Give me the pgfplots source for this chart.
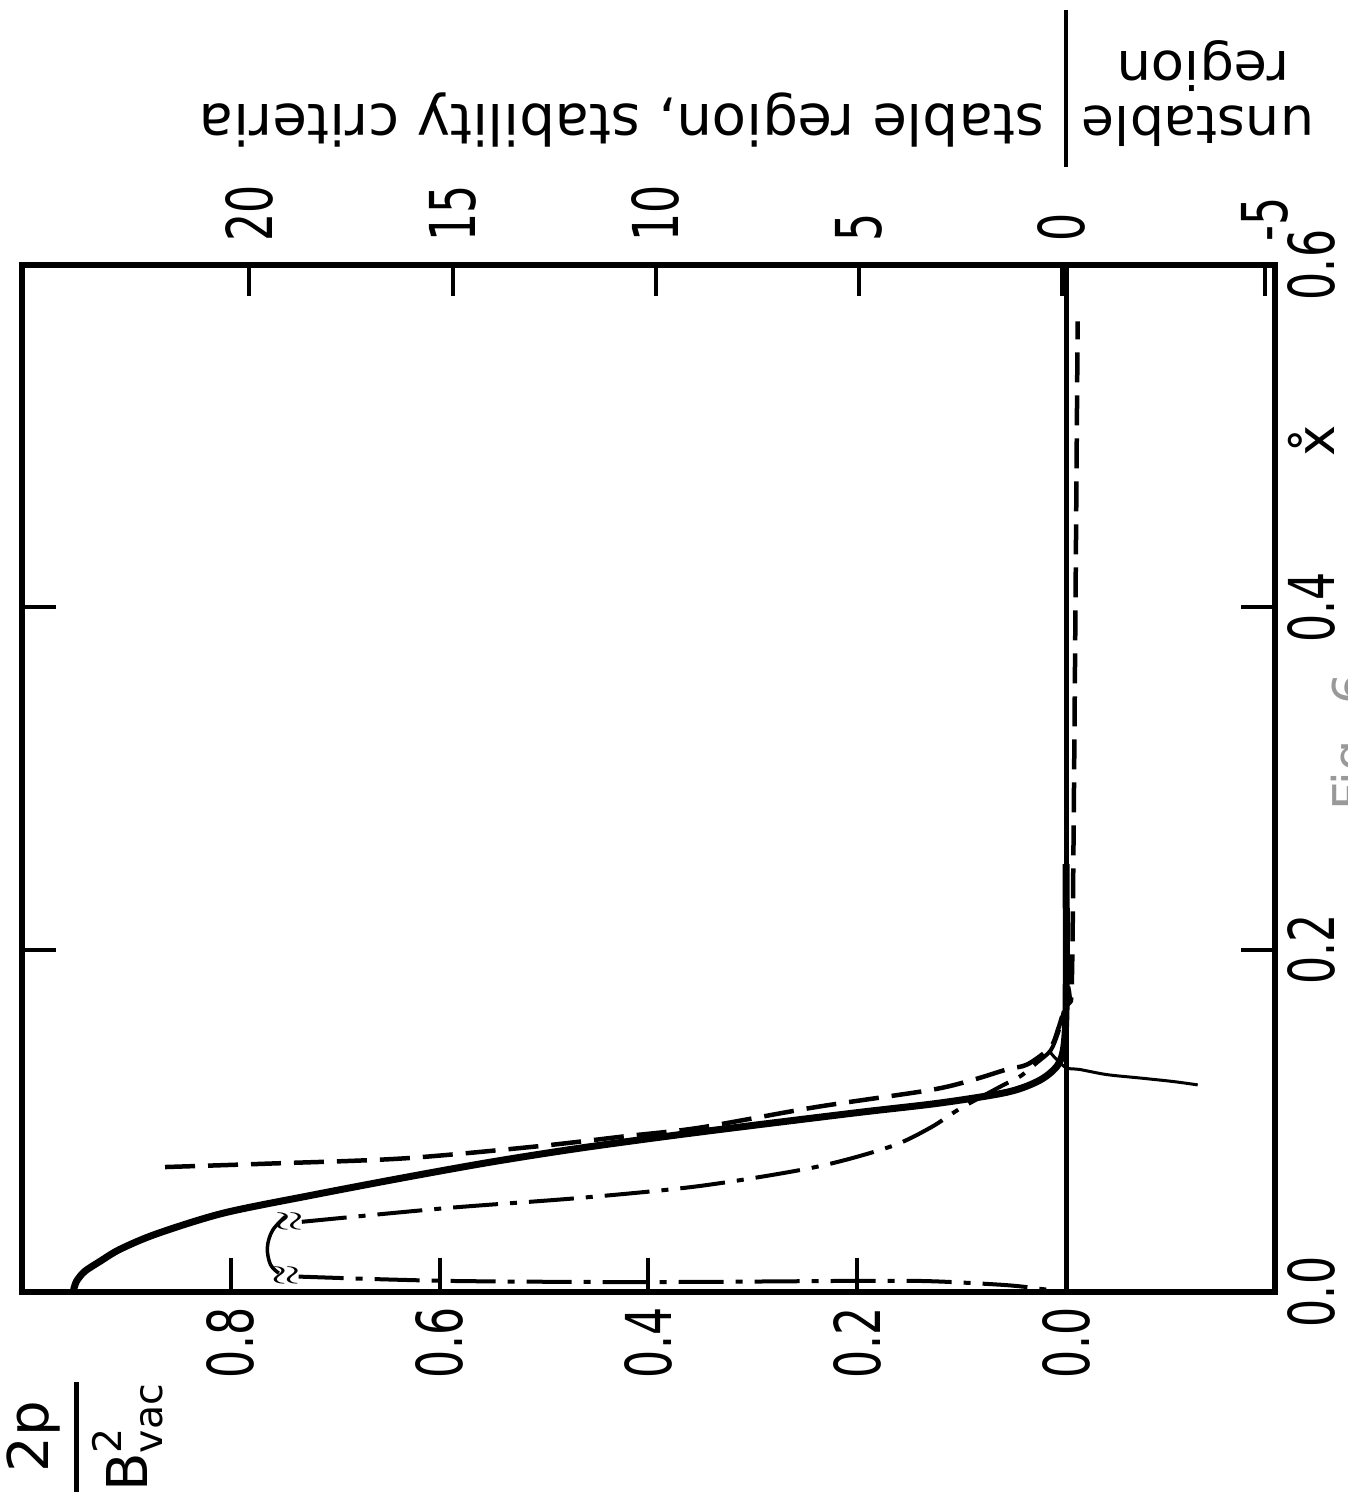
\documentclass[border=0pt]{standalone}
\usepackage{fontspec}
\setmainfont{DejaVu Sans}
\usepackage{amsmath}
\usepackage{graphicx}
\usepackage{pgfplots}
\pgfplotsset{compat=1.18}
\newcommand\tl[1]{\scalebox{0.7}[1]{#1}}
\newcommand\tickfont{\fontsize{18}{20}\selectfont}
\newcommand\brk{\scalebox{0.8}[1.7]{$\approx$}}

\begin{document}
\begin{tikzpicture}
\useasboundingbox (0,0) rectangle (134.7mm,150.1mm);
% top scale (stability criteria)
\begin{axis}[
  at={(2.2mm,20.9mm)}, anchor=south west,
  scale only axis, width=125.3mm, height=102.7mm,
  x dir=reverse, xmin=-5.25, xmax=25.6, ymin=0, ymax=1,
  axis line style={draw=none},
  ytick=\empty,
  xtick pos=right, xticklabel pos=right,
  tick align=inside, major tick length=3.1mm,
  tick style={line width=0.4mm, black},
  xtick={-5,0,5,10,15,20},
  xticklabels={\tl{-5},\tl{0},\tl{5},\tl{10},\tl{15},\tl{20}},
  xticklabel style={rotate=90, anchor=west, inner sep=0pt, font=\tickfont},
  xticklabel shift=2.3mm,
]
\end{axis}
% main axis
\begin{axis}[
  at={(2.2mm,20.9mm)}, anchor=south west,
  scale only axis, width=125.3mm, height=102.7mm,
  x dir=reverse, xmin=-0.2, xmax=1.0, ymin=0, ymax=0.6,
  clip=false,
  axis line style={line width=0.55mm},
  tick align=inside, major tick length=3.4mm,
  tick style={line width=0.4mm, black},
  xtick={0,0.2,0.4,0.6,0.8},
  xticklabels={\tl{0.0},\tl{0.2},\tl{0.4},\tl{0.6},\tl{0.8}},
  xtick pos=left,
  xticklabel style={rotate=90, anchor=east, inner sep=0pt, font=\tickfont},
  xticklabel shift=1.5mm,
  ytick={0,0.2,0.4,0.6},
  yticklabels={\tl{0.0},\tl{0.2},\tl{0.4},\tl{0.6}},
  ytick pos=both, yticklabel pos=right,
  yticklabel style={rotate=90, anchor=north, inner sep=0pt, font=\tickfont},
  yticklabel shift=1.2mm,
]
% zero line
\draw[line width=0.5mm] (axis cs:0,0) -- (axis cs:0,0.6);
% thick solid curve
\addplot[line width=0.7mm, smooth, tension=0.5] coordinates {
(0.951,0.000) (0.948,0.006) (0.940,0.012) (0.925,0.018) (0.906,0.025)
(0.871,0.034) (0.807,0.0461) (0.722,0.0566) (0.636,0.0666) (0.551,0.0759)
(0.465,0.0841) (0.358,0.0929) (0.204,0.1045) (0.121,0.1104) (0.056,0.1168)
(0.025,0.1238) (0.008,0.1326) (0.002,0.1443) (0.000,0.171) (0.000,0.250)};
% dashed curve
\addplot[line width=0.45mm, smooth, tension=0.5, dash pattern=on 3mm off 1.3mm] coordinates {
(0.863,0.073) (0.764,0.075) (0.636,0.078) (0.508,0.085) (0.422,0.091)
(0.351,0.096) (0.240,0.108) (0.130,0.118) (0.089,0.124) (0.057,0.130)
(0.037,0.133) (0.015,0.143) (0.008,0.153) (0.003,0.163) (-0.002,0.176)
(-0.006,0.200) (-0.011,0.567)};
% dash-dot upper branch
\addplot[line width=0.4mm, smooth, tension=0.5, dash pattern=on 4.5mm off 1.2mm on 0.7mm off 1.2mm] coordinates {
(0.732,0.041) (0.594,0.049) (0.465,0.055) (0.350,0.062) (0.240,0.073)
(0.168,0.085) (0.130,0.096) (0.102,0.107) (0.063,0.120) (0.044,0.126)
(0.028,0.134) (0.015,0.141) (0.008,0.151) (0.003,0.162) (0.000,0.176)};
% dash-dot lower branch
\addplot[line width=0.4mm, smooth, tension=0.5, dash pattern=on 4.5mm off 1.2mm on 0.7mm off 1.2mm] coordinates {
(0.735,0.0090) (0.594,0.0065) (0.400,0.0058) (0.200,0.0065) (0.130,0.0063)
(0.057,0.0040) (0.020,0.0015) (0.000,0.0000)};
% thin solid curve
\addplot[line width=0.3mm, smooth, tension=0.5] coordinates {
(-0.126,0.121) (-0.102,0.123) (-0.071,0.125) (-0.039,0.127) (-0.013,0.130)
(0.000,0.131) (0.011,0.137) (0.015,0.140)};
% bracket joining the breaks
\addplot[line width=0.35mm, smooth, tension=0.6] coordinates {
(0.748,0.044) (0.760,0.036) (0.765,0.026) (0.762,0.016) (0.754,0.011)};
\node[rotate=90, inner sep=0pt, font=\fontsize{9}{9}\selectfont] at (axis cs:0.743,0.041) {\brk};
\node[rotate=90, inner sep=0pt, font=\fontsize{9}{9}\selectfont] at (axis cs:0.746,0.0099) {\brk};
% x label
\node[rotate=90, anchor=north, inner sep=0pt, font=\fontsize{15}{17}\selectfont] at ([xshift=1.3mm]axis cs:-0.2,0.4975) {\r{x}};
% separator above frame
\draw[line width=0.45mm] ([yshift=9.8mm]axis cs:0,0.6) -- ([yshift=25.5mm]axis cs:0,0.6);
\end{axis}
% upside-down header texts
\node[rotate=180, inner sep=0pt, font=\fontsize{16}{18}\selectfont] at (62.2mm,138.1mm) {\resizebox{84.5mm}{\height}{stable region, stability criteria}};
\node[rotate=180, inner sep=0pt, font=\fontsize{15}{17}\selectfont] at (119.8mm,137.5mm) {\resizebox{23.2mm}{\height}{unstable}};
\node[rotate=180, inner sep=0pt, font=\fontsize{15}{17}\selectfont] at (120.3mm,143.5mm) {\resizebox{17.2mm}{\height}{region}};
% y quantity label
\node[rotate=90, inner sep=0pt, font=\fontsize{16}{18}\selectfont] at (8.5mm,6.4mm) {$\genfrac{}{}{1.3pt}{0}{\text{2p}}{\text{B}^{\text{2}}_{\text{vac}}}$};
% caption fragment at the edge
\node[rotate=90, anchor=north west, inner sep=0pt, text=black!40, font=\fontsize{14}{16}\selectfont] at (133.0mm,69.0mm) {Fig. 6};
\end{tikzpicture}
\end{document}
